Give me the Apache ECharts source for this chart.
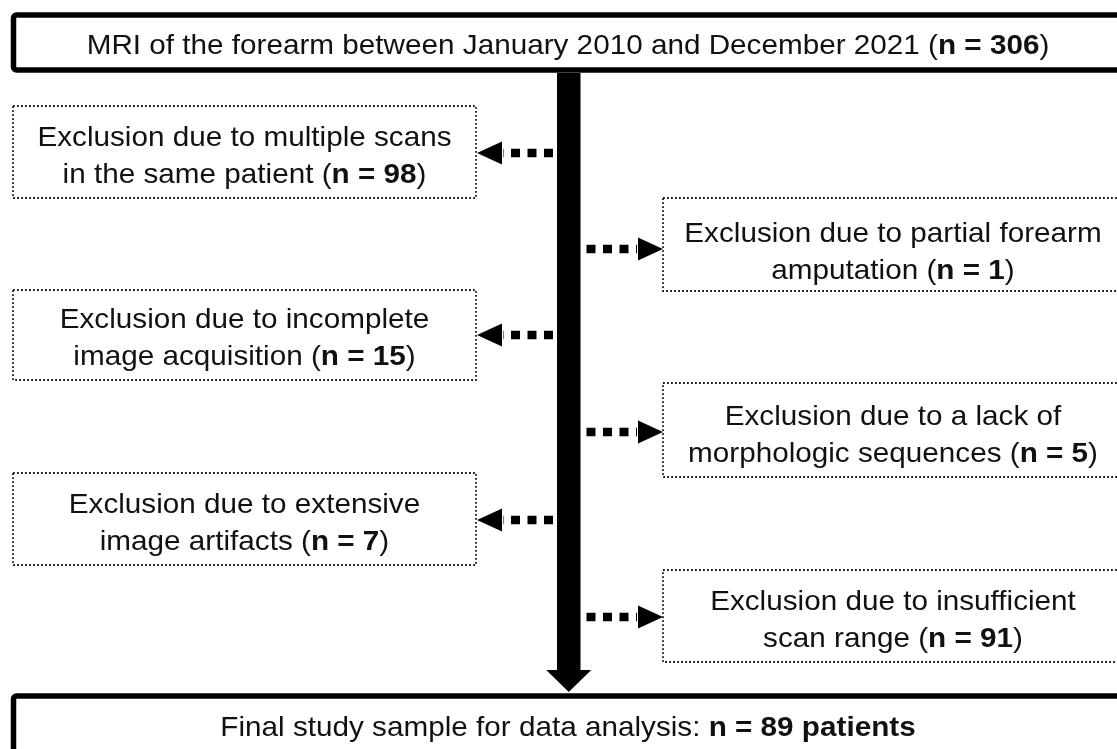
<!DOCTYPE html>
<html><head><meta charset="utf-8">
<script src="https://cdn.jsdelivr.net/npm/echarts@6/dist/echarts.min.js"></script>
<style>html,body{margin:0;padding:0;background:#fff}#c{width:1117px;height:749px}</style>
</head><body><div id="c"></div>
<script>
// ---- data ----
const sourceLabel = 'MRI of the forearm between January 2010 and December 2021';
const sourceCount = 306;
const exclusionLine1 = ['Exclusion due to multiple scans', 'Exclusion due to partial forearm', 'Exclusion due to incomplete', 'Exclusion due to a lack of', 'Exclusion due to extensive', 'Exclusion due to insufficient'];
const exclusionLine2 = ['in the same patient', 'amputation', 'image acquisition', 'morphologic sequences', 'image artifacts', 'scan range'];
const exclusionCounts = [98, 1, 15, 5, 7, 91];
const finalLabel = 'Final study sample for data analysis:';
const finalCount = 89;

// ---- layout (diagram coordinates) ----
const exclusionSide = ['left', 'right', 'left', 'right', 'left', 'right'];
const exclusionTop = [106, 198, 290, 383, 473, 570];
const exclusionBottom = [198, 291, 380, 477, 565, 662];
const exclusionArrowY = [153, 249, 335, 432, 520, 617];
const sideX = { left: [13, 476], right: [663, 1123] };
const trunkX = [557, 580.5];
const trunkY = [73, 670];
const headHalf = 22.5, headTip = 692;
const sourceBox = [13.5, 15, 1112, 55];
const finalBox = [13.5, 696, 1112, 120];
const TEXT_SHIFT = 3.5;

const FONT = '"Liberation Sans", Arial, Helvetica, sans-serif';
const FS = 28, SX = 1.06, INK = '#111';
const rich = { b: { fontWeight: 'bold', fontSize: FS, fontFamily: FONT, fill: INK, lineHeight: 37 } };

function P(api, x, y) { return api.coord([x, y]); }

function textEl(api, x, y, text) {
  const p = P(api, x, y + TEXT_SHIFT);
  return { type: 'text', x: p[0], y: p[1], scaleX: SX,
    style: { text, fontSize: FS, fontFamily: FONT, fill: INK, align: 'center', verticalAlign: 'middle', lineHeight: 37, rich } };
}

function renderExclusion(params, api) {
  const i = params.dataIndex;
  const side = exclusionSide[i];
  const [x0, x1] = sideX[side];
  const y0 = exclusionTop[i], y1 = exclusionBottom[i];
  const a = P(api, x0, y0), b = P(api, x1, y1);
  const ay = exclusionArrowY[i];
  const children = [];
  children.push({ type: 'rect', shape: { x: a[0], y: a[1], width: b[0] - a[0], height: b[1] - a[1] },
    style: { fill: '#fff', stroke: '#1a1a1a', lineWidth: 1.8, lineDash: [1.8, 2.2] } });
  children.push(textEl(api, (x0 + x1) / 2, ay,
    exclusionLine1[i] + '\n' + exclusionLine2[i] + ' ({b|n = ' + api.value(1) + '})'));
  // arrow
  let s, e, tip, back;
  if (side === 'left') { s = trunkX[0] - 4; e = x1 + 27; tip = x1 + 1; back = x1 + 26; }
  else { s = trunkX[1] + 6; e = x0 - 26; tip = x0; back = x0 - 25; }
  const ps = P(api, s, ay), pe = P(api, e, ay);
  children.push({ type: 'line', shape: { x1: ps[0], y1: ps[1], x2: pe[0], y2: pe[1] },
    style: { stroke: '#000', lineWidth: 8.5, lineDash: [9, 7.5] } });
  const t = P(api, tip, ay), bt = P(api, back, ay - 11.5), bb = P(api, back, ay + 11.5);
  children.push({ type: 'polygon', shape: { points: [t, bt, bb] }, style: { fill: '#000' } });
  return { type: 'group', children };
}

function renderTrunk(params, api) {
  const a = P(api, trunkX[0], trunkY[0]), b = P(api, trunkX[1], trunkY[1]);
  const cx = (trunkX[0] + trunkX[1]) / 2;
  const h1 = P(api, cx - headHalf, trunkY[1]), h2 = P(api, cx + headHalf, trunkY[1]), h3 = P(api, cx, headTip);
  return { type: 'group', children: [
    { type: 'rect', shape: { x: a[0], y: a[1], width: b[0] - a[0], height: b[1] - a[1] }, style: { fill: '#000' } },
    { type: 'polygon', shape: { points: [h1, h2, h3] }, style: { fill: '#000' } }
  ] };
}

function boxEl(api, box) {
  const a = P(api, box[0], box[1]), b = P(api, box[0] + box[2], box[1] + box[3]);
  return { type: 'rect', shape: { x: a[0], y: a[1], width: b[0] - a[0], height: b[1] - a[1], r: 3 },
    style: { fill: '#fff', stroke: '#000', lineWidth: 5.5 } };
}

function renderSource(params, api) {
  return { type: 'group', children: [
    boxEl(api, sourceBox),
    textEl(api, 568, 43, sourceLabel + ' ({b|n = ' + api.value(1) + '})')
  ] };
}
function renderFinal(params, api) {
  return { type: 'group', children: [
    boxEl(api, finalBox),
    textEl(api, 568, 725, finalLabel + ' {b|n = ' + api.value(1) + ' patients}')
  ] };
}

const chart = echarts.init(document.getElementById('c'), null, { renderer: 'canvas' });
chart.setOption({
  backgroundColor: '#fff',
  animation: false,
  grid: { left: 0, right: 0, top: 0, bottom: 0 },
  xAxis: { type: 'value', min: 0, max: 1117, show: false },
  yAxis: { type: 'value', min: 0, max: 749, inverse: true, show: false },
  series: [
    { type: 'custom', clip: false, silent: true, renderItem: renderTrunk, data: [[0, 0]] },
    { type: 'custom', clip: false, silent: true, renderItem: renderSource, data: [[0, sourceCount]] },
    { type: 'custom', clip: false, silent: true, renderItem: renderExclusion, data: exclusionCounts.map((c, i) => [i, c]) },
    { type: 'custom', clip: false, silent: true, renderItem: renderFinal, data: [[0, finalCount]] }
  ]
});
</script></body></html>
